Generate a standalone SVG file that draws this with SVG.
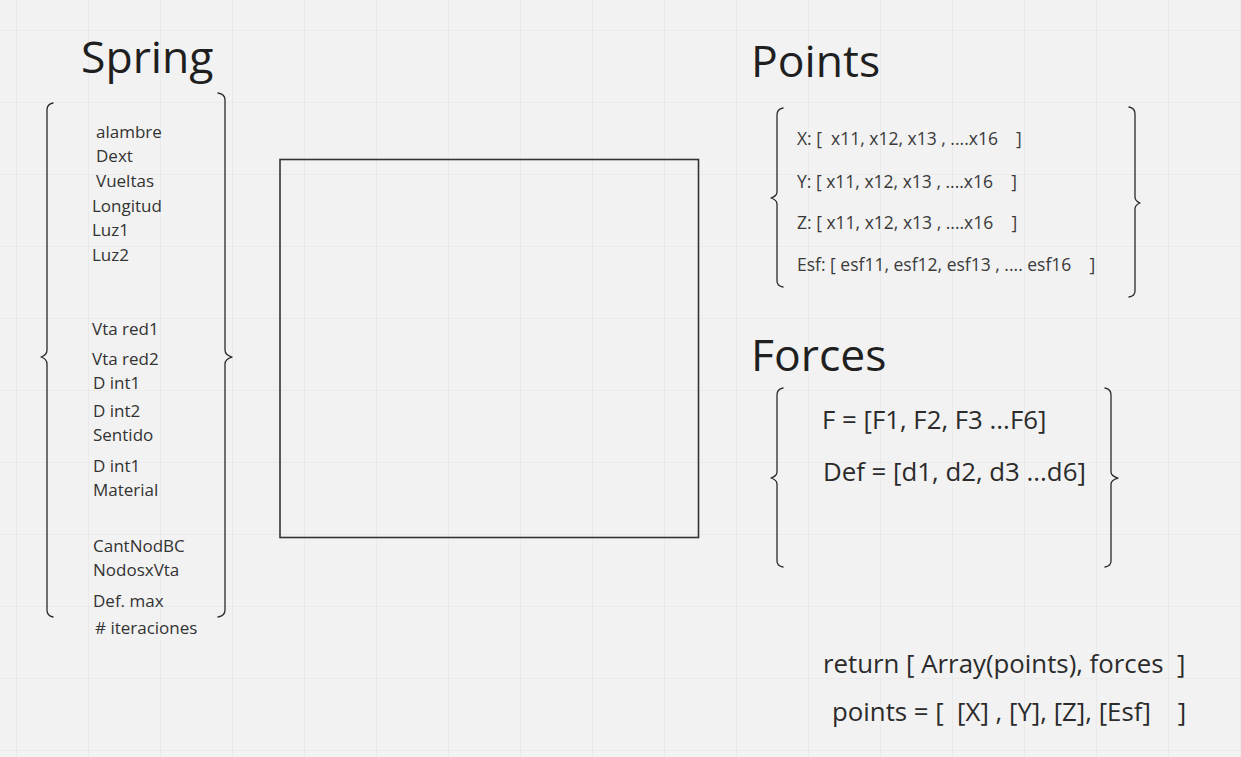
<svg xmlns="http://www.w3.org/2000/svg" width="1241" height="757" viewBox="0 0 1241 757">
<defs>
<pattern id="grid" x="16" y="30" width="72" height="72" patternUnits="userSpaceOnUse">
<path d="M0,0 H72 M0,0 V72" fill="none" stroke="#e4e4e4" stroke-width="1.2"/>
</pattern>
</defs>
<style>
text{font-family:"Open Sans","Noto Sans","Liberation Sans",sans-serif;fill:#333;white-space:pre}
.title{font-size:44.5px;fill:#1f1f1f}
.item{font-size:17px}
.pt{font-size:17.5px;fill:#3a3a3a}
.big{font-size:25.8px;fill:#2b2b2b}
.brace{fill:none;stroke:#2a2a2a;stroke-width:1.3;stroke-linecap:round;stroke-linejoin:round}
.box{fill:none;stroke:#333;stroke-width:1.6}
</style>
<rect width="1241" height="757" fill="#f2f2f2"/>
<rect width="1241" height="757" fill="url(#grid)"/>

<g id="spring">
<text class="title" x="81" y="73">Spring</text>
<path class="brace" d="M53,103 Q47,104 47,110 L47,350 Q47,355 41,357 Q47,359 47,364 L47,610 Q47,616 53,617"/>
<path class="brace" d="M218,93 Q225,94 225,100 L225,350 Q225,355 232,357 Q225,359 225,364 L225,610 Q225,616 218,617"/>
<g class="items">
<text class="item" x="96" y="138">alambre</text>
<text class="item" x="96" y="162">Dext</text>
<text class="item" x="96" y="187">Vueltas</text>
<text class="item" x="92" y="212">Longitud</text>
<text class="item" x="92" y="236">Luz1</text>
<text class="item" x="92" y="261">Luz2</text>
<text class="item" x="92" y="335">Vta red1</text>
<text class="item" x="92" y="365">Vta red2</text>
<text class="item" x="93" y="389">D int1</text>
<text class="item" x="93" y="417">D int2</text>
<text class="item" x="93" y="441">Sentido</text>
<text class="item" x="93" y="472">D int1</text>
<text class="item" x="93" y="496">Material</text>
<text class="item" x="93" y="552">CantNodBC</text>
<text class="item" x="93" y="576">NodosxVta</text>
<text class="item" x="93" y="607">Def. max</text>
<text class="item" x="95" y="634"># iteraciones</text>
</g>
</g>

<g id="box">
<rect class="box" x="280" y="159.5" width="418.5" height="378"/>
</g>

<g id="points">
<text class="title" x="751" y="77">Points</text>
<path class="brace" d="M783,108 Q777,109 777,115 L777,192 Q777,196 771,198 Q777,200 777,204 L777,281 Q777,286 783,287"/>
<path class="brace" d="M1129,107 Q1135,108 1135,114 L1135,197 Q1135,201 1140,203 Q1135,205 1135,209 L1135,291 Q1135,296 1129,297"/>
<text class="pt" x="797" y="145" xml:space="preserve">X: [  x11, x12, x13 , ....x16    ]</text>
<text class="pt" x="797" y="188" xml:space="preserve">Y: [ x11, x12, x13 , ....x16    ]</text>
<text class="pt" x="797" y="229" xml:space="preserve">Z: [ x11, x12, x13 , ....x16    ]</text>
<text class="pt" x="797" y="271" xml:space="preserve">Esf: [ esf11, esf12, esf13 , .... esf16    ]</text>
</g>

<g id="forces">
<text class="title" x="751" y="371">Forces</text>
<path class="brace" d="M783,388 Q777,389 777,395 L777,472 Q777,476 771,478 Q777,480 777,484 L777,561 Q777,566 783,567"/>
<path class="brace" d="M1105,388 Q1111,389 1111,395 L1111,472 Q1111,476 1118,478 Q1111,480 1111,484 L1111,561 Q1111,566 1105,567"/>
<text class="big" x="822" y="429">F = [F1, F2, F3 ...F6]</text>
<text class="big" x="823" y="481">Def = [d1, d2, d3 ...d6]</text>
</g>

<g id="return">
<text class="big" x="823" y="673" xml:space="preserve">return [ Array(points), forces  ]</text>
<text class="big" x="832" y="721" xml:space="preserve">points = [  [X] , [Y], [Z], [Esf]    ]</text>
</g>

<g id="connectors"/>
</svg>
